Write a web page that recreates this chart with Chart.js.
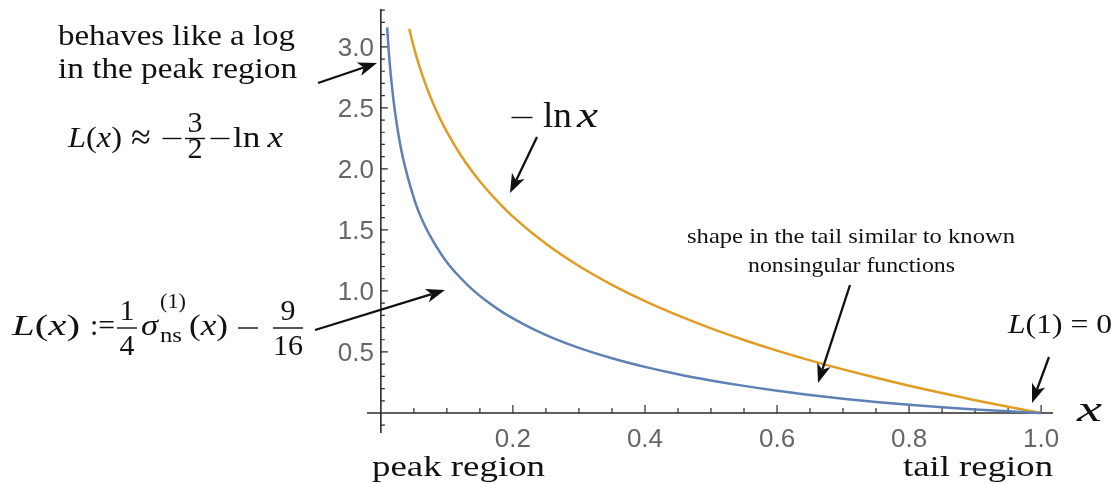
<!DOCTYPE html>
<html>
<head>
<meta charset="utf-8">
<script src="https://cdn.jsdelivr.net/npm/chart.js@4.4.1/dist/chart.umd.min.js"></script>
<style>
  html, body { margin: 0; padding: 0; background: #fff; }
  canvas { display: block; }
</style>
</head>
<body>
<canvas id="chart" width="1115" height="484"></canvas>
<script>
// L(x) curve (blue)
var blueX = [0.0095, 0.012, 0.015, 0.019, 0.024, 0.03, 0.037, 0.045, 0.055, 0.067, 0.08, 0.1, 0.12, 0.14, 0.16, 0.18, 0.2, 0.23, 0.26, 0.3, 0.35, 0.4, 0.45, 0.5, 0.55, 0.6, 0.65, 0.7, 0.75, 0.8, 0.85, 0.9, 0.95, 1.0];
var blueY = [3.16, 2.96, 2.77, 2.57, 2.37, 2.18, 2.01, 1.85, 1.68, 1.53, 1.40, 1.235, 1.11, 1.005, 0.917, 0.841, 0.775, 0.689, 0.616, 0.534, 0.449, 0.378, 0.318, 0.267, 0.222, 0.182, 0.148, 0.117, 0.090, 0.067, 0.046, 0.029, 0.014, 0];

// -ln x curve (orange)
var orangeX = [0.043, 0.046, 0.05, 0.055, 0.06, 0.065, 0.07, 0.08, 0.09, 0.1, 0.12, 0.14, 0.16, 0.18, 0.2, 0.25, 0.3, 0.35, 0.4, 0.45, 0.5, 0.55, 0.6, 0.65, 0.7, 0.75, 0.8, 0.85, 0.9, 0.95, 1.0];
var orangeY = [3.147, 3.079, 2.996, 2.900, 2.813, 2.733, 2.659, 2.526, 2.408, 2.303, 2.120, 1.966, 1.833, 1.715, 1.609, 1.386, 1.204, 1.050, 0.916, 0.799, 0.693, 0.598, 0.511, 0.431, 0.357, 0.288, 0.223, 0.163, 0.105, 0.051, 0];

var xTickValues = [0.2, 0.4, 0.6, 0.8, 1.0];
var xTickLabels = ['0.2', '0.4', '0.6', '0.8', '1.0'];
var yTickValues = [0.5, 1.0, 1.5, 2.0, 2.5, 3.0];
var yTickLabels = ['0.5', '1.0', '1.5', '2.0', '2.5', '3.0'];

var SERIF = '"Liberation Serif", "DejaVu Serif", serif';
var SANS = '"Liberation Sans", Arial, sans-serif';
var INK = '#111';

function pts(xs, ys) {
  return xs.map(function(x, i) { return { x: x, y: ys[i] }; });
}

function font(size, italic) {
  return (italic ? 'italic ' : '') + size + 'px ' + SERIF;
}

// draw mixed runs squeezed/stretched into [left, right]
function runs(ctx, parts, left, right, y) {
  var w = 0;
  parts.forEach(function(p) { ctx.font = p[1]; w += ctx.measureText(p[0]).width; });
  ctx.save();
  ctx.translate(left, y);
  ctx.scale((right - left) / w, 1);
  ctx.textAlign = 'left';
  ctx.textBaseline = 'alphabetic';
  var x = 0;
  parts.forEach(function(p) { ctx.font = p[1]; ctx.fillText(p[0], x, 0); x += ctx.measureText(p[0]).width; });
  ctx.restore();
}

function centered(ctx, s, cx, y, f) {
  ctx.font = f;
  ctx.textAlign = 'center';
  ctx.textBaseline = 'alphabetic';
  ctx.fillText(s, cx, y);
}

// TeX style minus: a thin bar on the math axis
function minus(ctx, cx, axisY, w) {
  ctx.fillRect(cx - w / 2, axisY - 0.7, w, 1.4);
}

function frac(ctx, num, den, cx, barY, half, numY, denY, f) {
  centered(ctx, num, cx, numY, f);
  centered(ctx, den, cx, denY, f);
  ctx.fillRect(cx - half, barY - 0.7, half * 2, 1.4);
}

function arrow(ctx, x1, y1, x2, y2) {
  var a = Math.atan2(y2 - y1, x2 - x1);
  var c = Math.cos(a), s = Math.sin(a);
  var L = 19, W = 7, notch = 14;
  ctx.lineWidth = 2.3;
  ctx.beginPath();
  ctx.moveTo(x1, y1);
  ctx.lineTo(x2 - c * notch, y2 - s * notch);
  ctx.stroke();
  ctx.beginPath();
  ctx.moveTo(x2, y2);
  ctx.lineTo(x2 - c * L - s * W, y2 - s * L + c * W);
  ctx.lineTo(x2 - c * notch, y2 - s * notch);
  ctx.lineTo(x2 - c * L + s * W, y2 - s * L - c * W);
  ctx.closePath();
  ctx.fill();
}

var axesPlugin = {
  id: 'crossAxes',
  beforeDatasetsDraw: function(chart) {
    var ctx = chart.ctx, xs = chart.scales.x, ys = chart.scales.y, a = chart.chartArea;
    var x0 = xs.getPixelForValue(0), y0 = ys.getPixelForValue(0);
    ctx.save();
    ctx.strokeStyle = '#2b2b2b';
    ctx.lineWidth = 1.6;
    ctx.beginPath();
    ctx.moveTo(a.left, y0); ctx.lineTo(a.right, y0);
    ctx.moveTo(x0, a.top); ctx.lineTo(x0, a.bottom);
    ctx.stroke();

    // minor ticks every 0.05 on x, every 0.1 on y
    ctx.lineWidth = 1.2;
    ctx.beginPath();
    for (var i = 1; i <= 20; i++) {
      var px = xs.getPixelForValue(i * 0.05);
      var len = (i % 4 === 0) ? 8 : 5;
      ctx.moveTo(px, y0); ctx.lineTo(px, y0 - len);
    }
    for (var j = -1; j <= 33; j++) {
      if (j === 0) continue;
      var py = ys.getPixelForValue(j * 0.1);
      var l2 = (j % 5 === 0) ? 7 : 4;
      ctx.moveTo(x0, py); ctx.lineTo(x0 + l2, py);
    }
    ctx.stroke();

    ctx.fillStyle = '#666';
    ctx.font = '26px ' + SANS;
    ctx.textBaseline = 'alphabetic';
    ctx.textAlign = 'center';
    xTickValues.forEach(function(v, k) {
      ctx.fillText(xTickLabels[k], xs.getPixelForValue(v), y0 + 34);
    });
    ctx.textAlign = 'right';
    yTickValues.forEach(function(v, k) {
      ctx.fillText(yTickLabels[k], x0 - 7, ys.getPixelForValue(v) + 9.5);
    });
    ctx.restore();
  },
  afterDraw: function(chart) {
    var ctx = chart.ctx;
    ctx.save();
    ctx.fillStyle = INK;
    ctx.strokeStyle = INK;

    // left notes
    runs(ctx, [['behaves like a log', font(30)]], 58, 295, 45);
    runs(ctx, [['in the peak region', font(30)]], 58, 297, 78);

    var R = font(29), I = font(29, true);
    runs(ctx, [['L', I], ['(', R], ['x', I], [')', R]], 68, 122, 147);
    centered(ctx, '\u2248', 141, 149, font(36));
    minus(ctx, 172, 138.5, 19);
    frac(ctx, '3', '2', 195, 138.5, 10, 132, 158, font(30));
    minus(ctx, 220, 138.5, 19);
    runs(ctx, [['ln', R], ['\u2009', R], ['x', I]], 233, 283, 147);

    // L(x) definition
    var R2 = font(30), I2 = font(30, true);
    runs(ctx, [['L', I2], ['(', R2], ['x', I2], [')', R2]], 12, 80, 335);
    runs(ctx, [[':=', R2]], 90, 115, 335);
    frac(ctx, '1', '4', 127, 328, 10, 320, 355, R2);
    runs(ctx, [['\u03c3', I2]], 141, 158, 335);
    runs(ctx, [['(1)', font(20)]], 160, 186, 308);
    runs(ctx, [['ns', font(20)]], 160, 182, 342);
    runs(ctx, [['(', R2], ['x', I2], [')', R2]], 189, 228, 335);
    minus(ctx, 248, 328, 20);
    frac(ctx, '9', '16', 288, 328, 15, 320, 355, R2);

    // -ln x
    var R36 = font(36), I36 = font(36, true);
    minus(ctx, 522, 117.5, 21);
    runs(ctx, [['ln', R36]], 543, 572, 127);
    runs(ctx, [['x', I36]], 577, 598, 127);

    // tail note
    runs(ctx, [['shape in the tail similar to known', font(21)]], 687, 1015, 243);
    runs(ctx, [['nonsingular functions', font(21)]], 748, 955, 272);

    // L(1) = 0
    runs(ctx, [['L', font(28, true)], ['(1) = 0', font(28)]], 1008, 1112, 333);

    // axis label and region labels
    runs(ctx, [['x', font(36, true)]], 1077, 1102, 421);
    runs(ctx, [['peak region', font(30)]], 372, 545, 476);
    runs(ctx, [['tail region', font(30)]], 903, 1053, 476);

    // arrows
    arrow(ctx, 318, 83, 377, 63);
    arrow(ctx, 537, 137, 510, 193);
    arrow(ctx, 315, 330, 445, 290);
    arrow(ctx, 850, 285, 818, 383);
    arrow(ctx, 1049, 357, 1032, 403);
    ctx.restore();
  }
};

new Chart(document.getElementById('chart'), {
  type: 'scatter',
  data: {
    datasets: [
      {
        label: 'L(x)',
        data: pts(blueX, blueY),
        showLine: true,
        borderColor: 'rgb(94,129,181)',
        borderWidth: 2.5,
        pointRadius: 0,
        cubicInterpolationMode: 'monotone',
      },
      {
        label: '-ln x',
        data: pts(orangeX, orangeY),
        showLine: true,
        borderColor: 'rgb(225,156,36)',
        borderWidth: 2.5,
        pointRadius: 0,
        cubicInterpolationMode: 'monotone',
      },
    ],
  },
  options: {
    responsive: false,
    animation: false,
    layout: { padding: { left: 367, right: 62, top: 9, bottom: 51 } },
    plugins: { legend: { display: false }, tooltip: { enabled: false } },
    scales: {
      x: { type: 'linear', min: -0.021, max: 1.018, display: false },
      y: { type: 'linear', min: -0.164, max: 3.31, display: false },
    },
  },
  plugins: [axesPlugin],
});
</script>
</body>
</html>
